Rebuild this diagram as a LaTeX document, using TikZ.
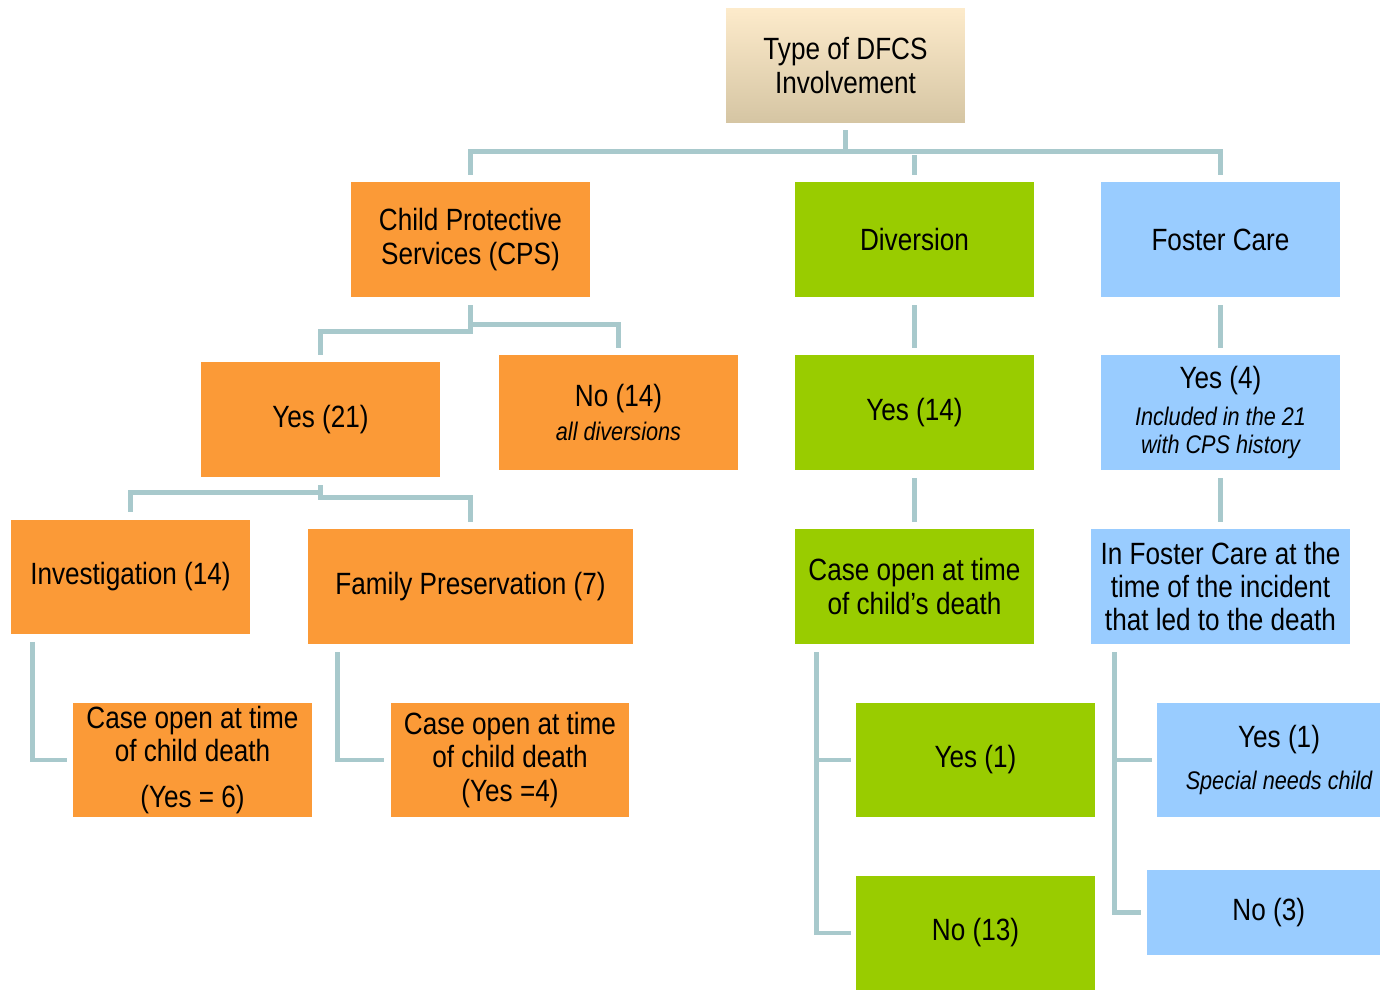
\documentclass[tikz,border=0pt]{standalone}
\usepackage{fontspec}
\setmainfont{Liberation Sans}[FakeStretch=0.85]
\usepackage{tikz}
\usepackage{xcolor}
\usetikzlibrary{calc}
\definecolor{cps-orange}{HTML}{FB9A37}
\definecolor{div-green}{HTML}{99CC00}
\definecolor{fc-blue}{HTML}{99CCFF}
\definecolor{link-grey}{HTML}{A8C9CC}
\definecolor{head-top}{HTML}{FDEBCB}
\definecolor{head-bottom}{HTML}{D5C5A3}
\newcommand{\subnote}[1]{{\fontsize{14.5}{16}\selectfont\itshape #1}}
\tikzset{
    plain-box/.style = {rectangle, inner sep=0pt, align=center, minimum width=4.78cm, minimum height=2.3cm,
        font=\fontsize{17.5}{19}\selectfont},
    head-box/.style = {plain-box, top color=head-top, bottom color=head-bottom},
    cps-box/.style = {plain-box, fill=cps-orange},
    div-box/.style = {plain-box, fill=div-green},
    fc-box/.style = {plain-box, fill=fc-blue},
    link/.style = {draw=link-grey, line width=2.8pt},
}

\begin{document}
\begin{tikzpicture}[x=0.02cm, y=-0.02cm]
\useasboundingbox (0,0) rectangle (1380,990);

\node[head-box] (head) at (845.5,65.5) {Type of DFCS\\Involvement};

\node[cps-box] (cps) at (470.5,239.5) {Child Protective\\Services (CPS)};
\node[div-box] (div) at (914.5,239.5) {Diversion};
\node[fc-box] (fc) at (1220.5,239.5) {Foster Care};

\node[cps-box] (cps-yes) at (320.5,419.5) {Yes (21)};
\node[cps-box] (cps-no) at (618.5,412.5) {No (14)\\\subnote{all diversions}};
\node[div-box] (div-yes) at (914.5,412.5) {Yes (14)};
\node[fc-box] (fc-yes) at (1220.5,412.5) {Yes (4)\\[2pt]\subnote{Included in the 21}\\[-3.5pt]\subnote{with CPS history}};

\node[cps-box] (invest) at (130.5,577) {Investigation (14)};
\node[cps-box, minimum width=6.5cm] (family) at (470.5,586.5) {Family Preservation (7)};
\node[div-box] (div-case) at (914.5,586.5) {Case open at time\\of child’s death};
\node[fc-box, minimum width=5.18cm] (fc-case) at (1220.5,586.5) {In Foster Care at the\\time of the incident\\that led to the death};

\node[cps-box] (invest-case) at (192.5,760) {Case open at time\\of child death\\[7pt](Yes = 6)};
\node[cps-box] (family-case) at (510,760) {Case open at time\\of child death\\(Yes =4)};
\node[div-box] (div-case-yes) at (975.5,760) {Yes (1)};
\node[div-box, minimum height=2.28cm] (div-case-no) at (975.5,933) {No (13)};
\node[fc-box, minimum width=4.46cm] (fc-case-yes) at (1268.5,760) {\hspace*{12pt}Yes (1)\\[5pt]\hspace*{12pt}\subnote{Special needs child}};
\node[fc-box, minimum width=4.66cm, minimum height=1.7cm] (fc-case-no) at (1263.5,912.5) {\hspace*{6pt}No (3)};

\draw[link] ($(head.south)+(0,7)$) -- ++(0,22);
\draw[link] ($(cps.north)+(0,-7)$) |- ($(fc.north)+(0,-30)$) -- ($(fc.north)+(0,-7)$);
\draw[link] ($(div.north)+(0,-7)$) -- ($(div.north)+(0,-27)$);

\draw[link] ($(cps.south)+(0,8)$) |- ($(cps-yes.north)+(0,-30)$) -- ($(cps-yes.north)+(0,-7)$);
\draw[link] ($(cps.south)+(0,8)$) |- ($(cps-no.north)+(0,-30)$) -- ($(cps-no.north)+(0,-7)$);
\draw[link] ($(div.south)+(0,8)$) -- ($(div-yes.north)+(0,-7)$);
\draw[link] ($(fc.south)+(0,8)$) -- ($(fc-yes.north)+(0,-7)$);

\draw[link] ($(cps-yes.south)+(0,8)$) |- ($(invest.north)+(0,-27)$) -- ($(invest.north)+(0,-7)$);
\draw[link] ($(cps-yes.south)+(0,8)$) |- ($(family.north)+(0,-31)$) -- ($(family.north)+(0,-7)$);
\draw[link] ($(div-yes.south)+(0,8)$) -- ($(div-case.north)+(0,-7)$);
\draw[link] ($(fc-yes.south)+(0,8)$) -- ($(fc-case.north)+(0,-7)$);

\draw[link] ($(invest.south west)+(22,7)$) |- ($(invest-case.west)+(-6,0)$);
\draw[link] ($(family.south west)+(30,8)$) |- ($(family-case.west)+(-6,0)$);
\draw[link] ($(div-case.south west)+(22,8)$) |- ($(div-case-no.west)+(-5,0)$);
\draw[link] ($(div-case.south west)+(22,8)$) |- ($(div-case-yes.west)+(-5,0)$);
\draw[link] ($(fc-case.south west)+(24,8)$) |- ($(fc-case-no.west)+(-6,0)$);
\draw[link] ($(fc-case.south west)+(24,8)$) |- ($(fc-case-yes.west)+(-5,0)$);
\end{tikzpicture}
\end{document}
